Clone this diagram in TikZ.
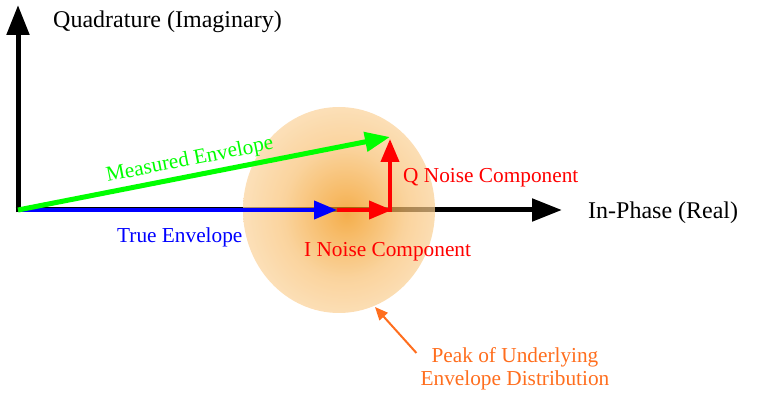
\documentclass[tikz,border=0pt]{standalone}
\usepackage{fontspec}
\setmainfont{Liberation Serif}
\usetikzlibrary{arrows.meta}
\definecolor{blobin}{RGB}{240,140,0}
\definecolor{blobout}{RGB}{255,236,210}
\definecolor{peakorange}{RGB}{255,110,30}
\pgfdeclareradialshading{blob}{\pgfpoint{2bp}{-1bp}}{color(0bp)=(blobin); color(16bp)=(blobin!45!blobout); color(40bp)=(blobout); color(50bp)=(blobout)}
\begin{document}
\begin{tikzpicture}[x=1pt,y=-1pt,
  lbl/.style={font=\fontsize{21.3}{23}\selectfont, inner sep=0pt},
  axlbl/.style={font=\fontsize{24}{26}\selectfont, inner sep=0pt},
  axisarrow/.style={line width=5pt, -{Triangle[length=30pt,width=22pt]}},
  vec/.style={line width=4pt, -{Triangle[length=23pt,width=18pt]}},
  pointer/.style={peakorange, line width=2pt, -{Triangle[length=13pt,width=11pt]}}
]
\useasboundingbox (0,0) rectangle (761,395);
% axes
\coordinate (O) at (18,210);
\coordinate (Ox) at (15.5,210);
\coordinate (Oy) at (18,212.5);
\coordinate (Xtip) at (562,210);
\coordinate (Ytip) at (18,5);
\draw[axisarrow] (Ox) -- (Xtip);
\draw[axisarrow] (Oy) -- (Ytip);
% distribution blob
\coordinate (C) at (339,210);
\shade[shading=blob, fill opacity=0.7] (C) ellipse [x radius=96pt, y radius=103pt];
% vectors
\coordinate (B) at (337,210);
\coordinate (I) at (392,210);
\coordinate (Qb) at (390,212);
\coordinate (Q) at (390,139);
\coordinate (G) at (390,137);
\draw[vec, blue] (O) -- (B);
\draw[vec, red] (B) -- (I);
\draw[vec, red] (Qb) -- (Q);
\draw[green, line width=5pt, -{Triangle[length=25pt,width=19pt]}] (O) -- node[lbl, sloped, above=3.4pt, pos=0.47] (ml) {Measured Envelope} (G);
% labels
\node[axlbl, anchor=base west] (yl) at (53,28) {Quadrature (Imaginary)};
\node[axlbl, anchor=base west] (xl) at (588,219) {In-Phase (Real)};
\node[lbl, blue, anchor=base west] (tl) at (117,243) {True Envelope};
\node[lbl, red, anchor=base west] (ql) at (403,183) {Q Noise Component};
\node[lbl, red, anchor=base west] (il) at (304,257) {I Noise Component};
\node[lbl, peakorange, align=center, anchor=north] (pk) at (515,347) {Peak of Underlying\\Envelope Distribution};
\coordinate (pt) at (375,307);
\draw[pointer] ([shift={(-4pt,-6pt)}]pk.north west) -- (pt);
\end{tikzpicture}
\end{document}
